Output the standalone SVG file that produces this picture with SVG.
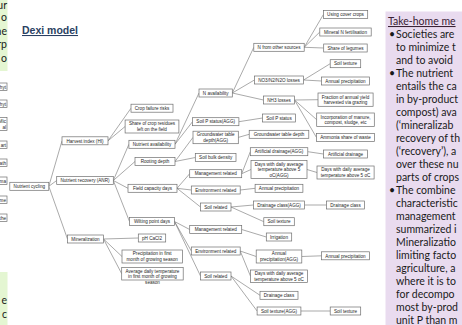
<svg xmlns="http://www.w3.org/2000/svg" width="462" height="325" viewBox="0 0 462 325">
<style>
.box{fill:#fff;stroke:#6e6e6e;stroke-width:0.7}
.lbl{font-family:"Liberation Sans",Arial,sans-serif;font-size:4.6px;fill:#1e1e1e;text-anchor:middle}
.edges line{stroke:#707070;stroke-width:0.6}
.side{font-family:Lato,"Open Sans",sans-serif;font-size:10.5px;fill:#1a1a1a}
.cut{font-family:"Liberation Sans",Arial,sans-serif;font-size:4.6px;fill:#1e1e1e;text-anchor:end}
</style>
<rect width="462" height="325" fill="#fff"/>

<!-- side panels -->
<rect x="0" y="0" width="7.5" height="71" fill="#E4F6D2"/>
<text class="side" x="7" y="9" text-anchor="end">ur</text>
<text class="side" x="7" y="21" text-anchor="end">o</text>
<text class="side" x="7" y="35" text-anchor="end">he</text>
<text class="side" x="7" y="48" text-anchor="end">rp</text>
<text class="side" x="7" y="62" text-anchor="end">o</text>
<rect x="0" y="272" width="7.5" height="53" fill="#E4F6D2"/>
<text class="side" x="7" y="304" text-anchor="end">e</text>
<text class="side" x="7" y="318" text-anchor="end">c</text>

<g id="clipped-boxes">
<rect class="box" x="-12" y="83" width="19" height="7.5"/><text class="cut" x="6" y="88.5">hyt</text>
<rect class="box" x="-12" y="100" width="19" height="7.5"/><text class="cut" x="6" y="105.5">hyt</text>
<rect class="box" x="-12" y="117.5" width="19" height="13"/><text class="cut" x="6" y="122.5">Mic</text><text class="cut" x="6" y="128.5">al</text>
<rect class="box" x="-12" y="141" width="19" height="7.5"/><text class="cut" x="6" y="146.5">art</text>
<rect class="box" x="-12" y="159" width="19" height="7.5"/><text class="cut" x="6" y="164.5">ath</text>
<rect class="box" x="-12" y="177" width="19" height="7.5"/><text class="cut" x="6" y="182.5">ma</text>
<rect class="box" x="-12" y="196" width="19" height="7.5"/><text class="cut" x="6" y="201.5">me</text>
<rect class="box" x="-12" y="214" width="19" height="7.5"/><text class="cut" x="6" y="219.5">the</text>
</g>

<text x="22" y="34" font-family="'Liberation Sans',Arial,sans-serif" font-size="10.5" font-weight="bold" fill="#2A3F62" text-decoration="underline">Dexi model</text>

<!-- connectors -->
<g class="edges">
<line x1="48.8" y1="186.3" x2="62" y2="140.8"/>
<line x1="48.8" y1="186.3" x2="56.7" y2="180.5"/>
<line x1="48.8" y1="186.3" x2="67.5" y2="239"/>
<line x1="108" y1="140.8" x2="131" y2="108.2"/>
<line x1="108" y1="140.8" x2="125.1" y2="126.5"/>
<line x1="113.3" y1="180.5" x2="128.9" y2="144.3"/>
<line x1="113.3" y1="180.5" x2="135" y2="161.5"/>
<line x1="113.3" y1="180.5" x2="128" y2="188.3"/>
<line x1="113.3" y1="180.5" x2="129.5" y2="221.5"/>
<line x1="103.5" y1="239" x2="138.3" y2="238"/>
<line x1="103.5" y1="239" x2="122" y2="256.5"/>
<line x1="103.5" y1="239" x2="121.7" y2="273.7"/>
<line x1="175" y1="144.3" x2="199" y2="93"/>
<line x1="175" y1="144.3" x2="192.5" y2="121.7"/>
<line x1="175" y1="161.5" x2="193" y2="137.4"/>
<line x1="175" y1="161.5" x2="195.3" y2="157.5"/>
<line x1="177" y1="188.3" x2="189.7" y2="173.7"/>
<line x1="177" y1="188.3" x2="191.3" y2="190"/>
<line x1="177" y1="188.3" x2="200.5" y2="207"/>
<line x1="174.5" y1="221.5" x2="189.7" y2="229.5"/>
<line x1="174.5" y1="221.5" x2="191.3" y2="251"/>
<line x1="174.5" y1="221.5" x2="200.5" y2="276"/>
<line x1="232.3" y1="93" x2="253.8" y2="47.3"/>
<line x1="232.3" y1="93" x2="254.4" y2="80"/>
<line x1="232.3" y1="93" x2="263.5" y2="100"/>
<line x1="238.9" y1="121.7" x2="262.5" y2="118"/>
<line x1="238.3" y1="137.4" x2="249.2" y2="134.3"/>
<line x1="241.7" y1="173.7" x2="250.3" y2="151.7"/>
<line x1="241.7" y1="173.7" x2="251" y2="169.5"/>
<line x1="240.2" y1="190" x2="255.1" y2="188.3"/>
<line x1="231" y1="207" x2="253.4" y2="205"/>
<line x1="231" y1="207" x2="263.8" y2="221.7"/>
<line x1="241.7" y1="229.5" x2="266.3" y2="237"/>
<line x1="240.2" y1="251" x2="256.2" y2="256.5"/>
<line x1="240.2" y1="251" x2="250.5" y2="276.2"/>
<line x1="231" y1="276" x2="260" y2="295.3"/>
<line x1="231" y1="276" x2="257.1" y2="311"/>
<line x1="304.2" y1="47.3" x2="323.4" y2="14.5"/>
<line x1="304.2" y1="47.3" x2="319.8" y2="32"/>
<line x1="304.2" y1="47.3" x2="323.7" y2="48"/>
<line x1="303.6" y1="80" x2="330.2" y2="63.7"/>
<line x1="303.6" y1="80" x2="321.6" y2="81"/>
<line x1="294.5" y1="100" x2="318" y2="99.7"/>
<line x1="294.5" y1="100" x2="316.7" y2="119.7"/>
<line x1="294.5" y1="100" x2="316.5" y2="137.5"/>
<line x1="307.8" y1="151.7" x2="323.4" y2="154"/>
<line x1="307" y1="169.5" x2="317" y2="172.5"/>
<line x1="304.6" y1="205" x2="326.5" y2="205"/>
<line x1="301.8" y1="256.5" x2="321.6" y2="255.8"/>
<line x1="300.9" y1="311" x2="330.2" y2="311"/>
</g>

<!-- level 0 / 1 -->
<g id="n-nutrient-cycling"><rect class="box" x="9.8" y="182.3" width="39" height="8"/><text class="lbl" x="29.3" y="188">Nutrient cycling</text></g>
<g id="n-harvest-index"><rect class="box" x="62" y="136.8" width="46" height="8"/><text class="lbl" x="85" y="142.5">Harvest index (HI)</text></g>
<g id="n-nutrient-recovery"><rect class="box" x="56.7" y="176.5" width="56.6" height="8"/><text class="lbl" x="85" y="182.2">Nutrient recovery (ANR)</text></g>
<g id="n-mineralization"><rect class="box" x="67.5" y="235" width="36" height="8"/><text class="lbl" x="85.5" y="240.7">Mineralization</text></g>

<!-- level 2 -->
<g id="n-crop-failure"><rect class="box" x="131" y="104.2" width="42" height="8"/><text class="lbl" x="152" y="109.9">Crop failure risks</text></g>
<g id="n-crop-residues"><rect class="box" x="125.1" y="120" width="53.8" height="13"/><text class="lbl" x="152" y="125.4">Share of crop residues</text><text class="lbl" x="152" y="131">left on the field</text></g>
<g id="n-nutrient-availability"><rect class="box" x="128.9" y="140.3" width="46.1" height="8"/><text class="lbl" x="152" y="146">Nutrient availability</text></g>
<g id="n-rooting-depth"><rect class="box" x="135" y="157.5" width="40" height="8"/><text class="lbl" x="155" y="163.2">Rooting depth</text></g>
<g id="n-field-capacity"><rect class="box" x="128" y="184.3" width="49" height="8"/><text class="lbl" x="152.5" y="190">Field capacity days</text></g>
<g id="n-wilting-point"><rect class="box" x="129.5" y="217.5" width="45" height="8"/><text class="lbl" x="152" y="223.2">Wilting point days</text></g>
<g id="n-ph"><rect class="box" x="138.3" y="234" width="27.4" height="8"/><text class="lbl" x="152" y="239.7">pH CaCl2</text></g>
<g id="n-precipitation-first"><rect class="box" x="122" y="250" width="60.5" height="13"/><text class="lbl" x="152.2" y="255.4">Precipitation in first</text><text class="lbl" x="152.2" y="261">month of growing season</text></g>
<g id="n-temperature-first"><rect class="box" x="121.7" y="267.5" width="61.5" height="12.5"/><text class="lbl" x="152.5" y="272.8">Average daily temperature</text><text class="lbl" x="152.5" y="278.2">in first month of growing</text><text class="lbl" x="152.5" y="284">season</text></g>

<!-- level 3 -->
<g id="n-n-availability"><rect class="box" x="199" y="89" width="33.3" height="8"/><text class="lbl" x="215.7" y="94.7">N availability</text></g>
<g id="n-soil-p-agg"><rect class="box" x="192.5" y="117.7" width="46.4" height="8"/><text class="lbl" x="215.7" y="123.4">Soil P status(AGG)</text></g>
<g id="n-groundwater-agg"><rect class="box" x="193" y="131.2" width="45.3" height="12.5"/><text class="lbl" x="215.7" y="136.4">Groundwater table</text><text class="lbl" x="215.7" y="141.8">depth(AGG)</text></g>
<g id="n-bulk-density"><rect class="box" x="195.3" y="153.5" width="40.7" height="8"/><text class="lbl" x="215.7" y="159.2">Soil bulk density</text></g>
<g id="n-fc-management"><rect class="box" x="189.7" y="169.7" width="52" height="8"/><text class="lbl" x="215.7" y="175.4">Management related</text></g>
<g id="n-fc-environment"><rect class="box" x="191.3" y="186" width="48.9" height="8"/><text class="lbl" x="215.7" y="191.7">Environment related</text></g>
<g id="n-fc-soil"><rect class="box" x="200.5" y="203" width="30.5" height="8"/><text class="lbl" x="215.7" y="208.7">Soil related</text></g>
<g id="n-wp-management"><rect class="box" x="189.7" y="225.5" width="52" height="8"/><text class="lbl" x="215.7" y="231.2">Management related</text></g>
<g id="n-wp-environment"><rect class="box" x="191.3" y="247" width="48.9" height="8"/><text class="lbl" x="215.7" y="252.7">Environment related</text></g>
<g id="n-wp-soil"><rect class="box" x="200.5" y="272" width="30.5" height="8"/><text class="lbl" x="215.7" y="277.7">Soil related</text></g>

<!-- level 4 -->
<g id="n-n-other-sources"><rect class="box" x="253.8" y="43.3" width="50.4" height="8"/><text class="lbl" x="279" y="49">N from other sources</text></g>
<g id="n-no3-losses"><rect class="box" x="254.4" y="76" width="49.2" height="8"/><text class="lbl" x="279" y="81.7">NO3/N2/N2O losses</text></g>
<g id="n-nh3-losses"><rect class="box" x="263.5" y="96" width="31" height="8"/><text class="lbl" x="279" y="101.7">NH3 losses</text></g>
<g id="n-soil-p"><rect class="box" x="262.5" y="114" width="33.1" height="8"/><text class="lbl" x="279" y="119.7">Soil P status</text></g>
<g id="n-groundwater"><rect class="box" x="249.2" y="130.3" width="59.6" height="8"/><text class="lbl" x="279" y="136">Groundwater table depth</text></g>
<g id="n-drainage-agg"><rect class="box" x="250.3" y="147.7" width="57.5" height="8"/><text class="lbl" x="279" y="153.4">Artificial drainage(AGG)</text></g>
<g id="n-days5-agg"><rect class="box" x="251" y="160.5" width="56" height="18"/><text class="lbl" x="279" y="165.6">Days with daily average</text><text class="lbl" x="279" y="171.2">temperature above 5</text><text class="lbl" x="279" y="176.8">oC(AGG)</text></g>
<g id="n-fc-precipitation"><rect class="box" x="255.1" y="184.3" width="47.8" height="8"/><text class="lbl" x="279" y="190">Annual precipitation</text></g>
<g id="n-drainage-class-agg"><rect class="box" x="253.4" y="201" width="51.2" height="8"/><text class="lbl" x="279" y="206.7">Drainage class(AGG)</text></g>
<g id="n-fc-texture"><rect class="box" x="263.8" y="217.7" width="30.5" height="8"/><text class="lbl" x="279" y="223.4">Soil texture</text></g>
<g id="n-irrigation"><rect class="box" x="266.3" y="233" width="25.4" height="8"/><text class="lbl" x="279" y="238.7">Irrigation</text></g>
<g id="n-precipitation-agg"><rect class="box" x="256.2" y="250" width="45.6" height="13"/><text class="lbl" x="279" y="255.4">Annual</text><text class="lbl" x="279" y="261">precipitation(AGG)</text></g>
<g id="n-wp-days5"><rect class="box" x="250.5" y="270" width="57.1" height="12.5"/><text class="lbl" x="279" y="275.2">Days with daily average</text><text class="lbl" x="279" y="280.6">temperature above 5 oC</text></g>
<g id="n-wp-drainage-class"><rect class="box" x="260" y="291.3" width="38" height="8"/><text class="lbl" x="279" y="297">Drainage class</text></g>
<g id="n-texture-agg"><rect class="box" x="257.1" y="307" width="43.8" height="8"/><text class="lbl" x="279" y="312.7">Soil texture(AGG)</text></g>

<!-- level 5 -->
<g id="n-cover-crops"><rect class="box" x="323.4" y="10.5" width="44.3" height="8"/><text class="lbl" x="345.5" y="16.2">Using cover crops</text></g>
<g id="n-mineral-n"><rect class="box" x="319.8" y="28" width="51.4" height="8"/><text class="lbl" x="345.5" y="33.7">Mineral N fertilisation</text></g>
<g id="n-legumes"><rect class="box" x="323.7" y="44" width="43.5" height="8"/><text class="lbl" x="345.5" y="49.7">Share of legumes</text></g>
<g id="n-no3-texture"><rect class="box" x="330.2" y="59.7" width="30.5" height="8"/><text class="lbl" x="345.5" y="65.4">Soil texture</text></g>
<g id="n-no3-precipitation"><rect class="box" x="321.6" y="77" width="47.8" height="8"/><text class="lbl" x="345.5" y="82.7">Annual precipitation</text></g>
<g id="n-grazing"><rect class="box" x="318" y="93" width="55.1" height="13.3"/><text class="lbl" x="345.5" y="98.5">Fraction of annual yield</text><text class="lbl" x="345.5" y="104.1">harvested via grazing</text></g>
<g id="n-incorporation"><rect class="box" x="316.7" y="113" width="57.6" height="13.5"/><text class="lbl" x="345.5" y="118.6">Incorporation of manure,</text><text class="lbl" x="345.5" y="124.2">compost, sludge, etc</text></g>
<g id="n-ammonia"><rect class="box" x="316.5" y="133.5" width="58.1" height="8"/><text class="lbl" x="345.5" y="139.2">Ammonia share of waste</text></g>
<g id="n-drainage"><rect class="box" x="323.4" y="150" width="44.2" height="8"/><text class="lbl" x="345.5" y="155.7">Artificial drainage</text></g>
<g id="n-days5"><rect class="box" x="317" y="166" width="57.1" height="13"/><text class="lbl" x="345.5" y="171.4">Days with daily average</text><text class="lbl" x="345.5" y="177">temperature above 5 oC</text></g>
<g id="n-drainage-class"><rect class="box" x="326.5" y="201" width="38" height="8"/><text class="lbl" x="345.5" y="206.7">Drainage class</text></g>
<g id="n-precipitation"><rect class="box" x="321.6" y="251.8" width="47.8" height="8"/><text class="lbl" x="345.5" y="257.5">Annual precipitation</text></g>
<g id="n-texture"><rect class="box" x="330.2" y="307" width="30.5" height="8"/><text class="lbl" x="345.5" y="312.7">Soil texture</text></g>

<!-- take-home panel -->
<rect x="385.5" y="11.5" width="80" height="320" fill="#E9DBEF"/>
<g class="side">
<text x="388" y="25" fill="#3a2235" text-decoration="underline">Take-home me</text>
<text x="389" y="38">•</text><text x="396" y="38">Societies are</text>
<text x="396" y="51">to minimize t</text>
<text x="396" y="64">and to avoid</text>
<text x="389" y="77">•</text><text x="396" y="77">The nutrient</text>
<text x="396" y="90">entails the ca</text>
<text x="396" y="103">in by-product</text>
<text x="396" y="116">compost) ava</text>
<text x="396" y="129">(‘mineralizab</text>
<text x="396" y="142">recovery of th</text>
<text x="396" y="155">(‘recovery’), a</text>
<text x="396" y="168">over these nu</text>
<text x="396" y="181">parts of crops</text>
<text x="389" y="194">•</text><text x="396" y="194">The combine</text>
<text x="396" y="207">characteristic</text>
<text x="396" y="220">management</text>
<text x="396" y="233">summarized i</text>
<text x="396" y="246">Mineralizatio</text>
<text x="396" y="259">limiting facto</text>
<text x="396" y="272">agriculture, a</text>
<text x="396" y="285">where it is to</text>
<text x="396" y="298">for decompo</text>
<text x="396" y="311">most by-prod</text>
<text x="396" y="324">unit P than m</text>
</g>
</svg>
